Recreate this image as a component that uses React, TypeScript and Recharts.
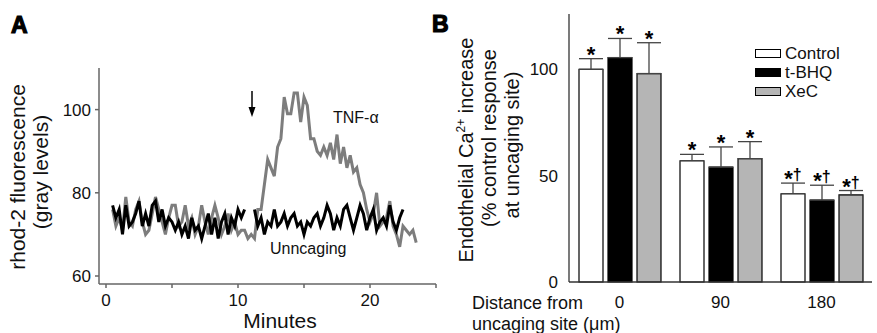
import React from 'react';
import {
  LineChart, Line, XAxis, YAxis, BarChart, Bar, ErrorBar, LabelList, Legend,
} from 'recharts';

// Panel A: rhod-2 fluorescence over time (sampled every 0.25 min)
const minutes = [
  0.5, 0.75, 1, 1.25, 1.5, 1.75, 2, 2.25, 2.5, 2.75, 3, 3.25, 3.5, 3.75, 4, 4.25, 4.5, 4.75, 5, 5.25,
  5.5, 5.75, 6, 6.25, 6.5, 6.75, 7, 7.25, 7.5, 7.75, 8, 8.25, 8.5, 8.75, 9, 9.25, 9.5, 9.75, 10, 10.25,
  10.5, 10.75, 11, 11.25, 11.5, 11.75, 12, 12.25, 12.5, 12.75, 13, 13.25, 13.5, 13.75, 14, 14.25, 14.5, 14.75, 15, 15.25,
  15.5, 15.75, 16, 16.25, 16.5, 16.75, 17, 17.25, 17.5, 17.75, 18, 18.25, 18.5, 18.75, 19, 19.25, 19.5, 19.75, 20, 20.25,
  20.5, 20.75, 21, 21.25, 21.5, 21.75, 22, 22.25, 22.5, 22.75, 23, 23.25, 23.5,
];
const tnfAlpha = [
  76, 72, 74, 71, 79, 73, 72, 76, 78, 73, 70, 71, 75, 79, 76, 73, 70, 74, 77, 77,
  72, 73, 77, 72, 74, 70, 72, 77, 73, 70, 74, 77, 74, 70, 72, 75, 71, 73, 70, 71,
  71, 69, 70, 69, 76, 76, 82, 88, 86, 84, 91, 93, 103, 99, 99, 104, 104, 97, 103, 101,
  93, 93, 90, 89, 91, 89, 92, 88, 94, 87, 91, 86, 89, 85, 86, 82, 80, 76, 73, 75,
  80, 72, 73, 74, 78, 72, 70, 67, 72, 71, 70, 71, 68,
];
const uncaging = [
  77, 74, 76, 70, 77, 72, 73, 75, 78, 72, 75, 72, 77, 78, 73, 76, 72, 74, 73, 71,
  73, 70, 72, 69, 74, 71, 72, 69, 72, 75, 70, 74, 69, 73, 75, 70, 74, 72, 76, 74,
  76, null, null, 76, 72, 74, 70, 73, 72, 76, 72, 73, 75, 72, 74, 75, 72, 73, 70, 73,
  72, 74, 75, 72, 74, 77, 75, 71, 74, 72, 76, 77, 74, 71, 74, 77, 75, 71, 74, 76,
  71, 73, 74, 72, 77, 73, 71, 74, 76, null, null, null, null,
];
const minuteTicks = [0, 5, 10, 15, 20, 25];
const fluorTicks = [60, 80, 100];

// Panel B: Ca2+ increase by distance from uncaging site
const distances = ['0', '90', '180'];
const controlMean = [100, 57, 41.5];
const controlErr = [5, 3, 5];
const tbhqMean = [105.5, 54, 38.5];
const tbhqErr = [9, 9.5, 7];
const xecMean = [98, 58, 41];
const xecErr = [14.5, 8, 2];
const marks = ['*', '*', '*†'];
const pctTicks = [0, 50, 100];

const lineData = minutes.map((t, i) => ({ t, tnf: tnfAlpha[i], unc: uncaging[i] }));
const barData = distances.map((d, i) => ({
  d,
  control: controlMean[i], controlE: [0, controlErr[i]],
  tbhq: tbhqMean[i], tbhqE: [0, tbhqErr[i]],
  xec: xecMean[i], xecE: [0, xecErr[i]],
}));

const font = '"Liberation Sans", Arial, Helvetica, sans-serif';
const tickStyle = { fill: '#111', fontSize: 17, fontFamily: font };

const markLabel = (errs: number[]) => (p: any) => {
  const { x, y, width, height, value, index } = p;
  if (value == null || !height) return null;
  const capY = y - errs[index] * (height / value);
  const m = marks[index];
  return (
    <text x={x + width / 2} y={capY + 3} textAnchor="middle" fontWeight="bold" fontFamily={font} fill="#000">
      <tspan fontSize={22}>*</tspan>
      {m.length > 1 && <tspan fontSize={16} dy={-6}>†</tspan>}
    </text>
  );
};

const legendItems = [
  { name: 'Control', fill: '#ffffff' },
  { name: 't-BHQ', fill: '#000000' },
  { name: 'XeC', fill: '#b5b5b5' },
];

function LegendBox() {
  return (
    <div style={{ fontFamily: font, fontSize: 17, color: '#111' }}>
      {legendItems.map((it) => (
        <div key={it.name} style={{ display: 'flex', alignItems: 'center', height: 19 }}>
          <div style={{ width: 24, height: 7, border: '1px solid #000', background: it.fill, marginRight: 4 }} />
          <span>{it.name}</span>
        </div>
      ))}
    </div>
  );
}

export default function App() {
  return (
    <div style={{ position: 'absolute', left: 0, top: 0, width: 877, height: 333, background: '#fff', overflow: 'hidden' }}>
      <div style={{ position: 'absolute', left: 0, top: 0 }}>
        <LineChart width={440} height={333} data={lineData} margin={{ top: 68, right: 4, left: 59, bottom: 19 }}>
          <XAxis
            dataKey="t" type="number" domain={[0, 25]} ticks={minuteTicks} padding={{ left: 7, right: 0 }}
            tickFormatter={(v: number) => (v % 10 === 0 ? String(v) : '')}
            tick={tickStyle} tickSize={4} tickMargin={6} height={30}
            axisLine={{ stroke: '#666', strokeWidth: 1.5 }} tickLine={{ stroke: '#666', strokeWidth: 1.5 }}
          />
          <YAxis
            type="number" domain={[60, 110]} ticks={fluorTicks} padding={{ bottom: 8, top: 0 }}
            tick={tickStyle} tickSize={4} tickMargin={4} width={40}
            axisLine={{ stroke: '#666', strokeWidth: 1.5 }} tickLine={{ stroke: '#666', strokeWidth: 1.5 }}
          />
          <Line dataKey="tnf" stroke="#7d7d7d" strokeWidth={3} dot={false} isAnimationActive={false} connectNulls={false} />
          <Line dataKey="unc" stroke="#000" strokeWidth={3} dot={false} isAnimationActive={false} connectNulls={false} />
        </LineChart>
      </div>

      <div style={{ position: 'absolute', left: 440, top: 0 }}>
        <BarChart width={437} height={333} data={barData} margin={{ top: 14, right: 5, left: 89, bottom: 21 }} barSize={24} barGap={5}>
          <XAxis
            dataKey="d" tick={tickStyle} tickLine={false} tickSize={0} tickMargin={14} height={30}
            axisLine={{ stroke: '#333', strokeWidth: 1.3 }}
          />
          <YAxis
            type="number" domain={[0, 126]} ticks={pctTicks} tick={tickStyle} tickLine={false} tickSize={0}
            tickMargin={11} width={40} axisLine={{ stroke: '#333', strokeWidth: 1.3 }}
          />
          <Legend
            layout="horizontal" verticalAlign="middle" align="center"
            wrapperStyle={{ left: 315, top: 44, width: 110 }}
            content={() => <LegendBox />}
          />
          <Bar dataKey="control" name="Control" fill="#ffffff" stroke="#000" strokeWidth={1.2} isAnimationActive={false}>
            <ErrorBar dataKey="controlE" width={12} stroke="#444" strokeWidth={1.3} isAnimationActive={false} />
            <LabelList dataKey="control" content={markLabel(controlErr)} />
          </Bar>
          <Bar dataKey="tbhq" name="t-BHQ" fill="#000000" stroke="#000" strokeWidth={1.2} isAnimationActive={false}>
            <ErrorBar dataKey="tbhqE" width={12} stroke="#444" strokeWidth={1.3} isAnimationActive={false} />
            <LabelList dataKey="tbhq" content={markLabel(tbhqErr)} />
          </Bar>
          <Bar dataKey="xec" name="XeC" fill="#b5b5b5" stroke="#000" strokeWidth={1.2} isAnimationActive={false}>
            <ErrorBar dataKey="xecE" width={12} stroke="#444" strokeWidth={1.3} isAnimationActive={false} />
            <LabelList dataKey="xec" content={markLabel(xecErr)} />
          </Bar>
        </BarChart>
      </div>

      <svg width={877} height={333} style={{ position: 'absolute', left: 0, top: 0, pointerEvents: 'none' }} fontFamily={font} fill="#111">
        {/* panel A */}
        <text x={11} y={33} fontSize={23} fontWeight="bold" fill="#000" stroke="#000" strokeWidth={1.2}>A</text>
        <line x1={252} y1={91} x2={252} y2={110} stroke="#000" strokeWidth={1.5} />
        <polygon points="248.5,107 255.5,107 252,117" fill="#000" />
        <text x={333} y={123} fontSize={16}>TNF-α</text>
        <text x={270} y={254} fontSize={16}>Unncaging</text>
        <text transform="translate(25,177) rotate(-90)" textAnchor="middle" fontSize={21}>rhod-2 fluorescence</text>
        <text transform="translate(48,172) rotate(-90)" textAnchor="middle" fontSize={21}>(gray levels)</text>
        <text x={280} y={328} textAnchor="middle" fontSize={21}>Minutes</text>

        {/* panel B */}
        <text x={432} y={32} fontSize={23} fontWeight="bold" fill="#000" stroke="#000" strokeWidth={1.2}>B</text>
        <text transform="translate(473,150) rotate(-90)" textAnchor="middle" fontSize={20}>
          Endothelial Ca<tspan fontSize={12} dy={-8}>2+</tspan><tspan dy={8}> increase</tspan>
        </text>
        <text transform="translate(496,138) rotate(-90)" textAnchor="middle" fontSize={20}>(% control response</text>
        <text transform="translate(519,145) rotate(-90)" textAnchor="middle" fontSize={20}>at uncaging site)</text>
        <text x={472} y={309} fontSize={18}>Distance from</text>
        <text x={472} y={330} fontSize={18}>uncaging site (μm)</text>
      </svg>
    </div>
  );
}
